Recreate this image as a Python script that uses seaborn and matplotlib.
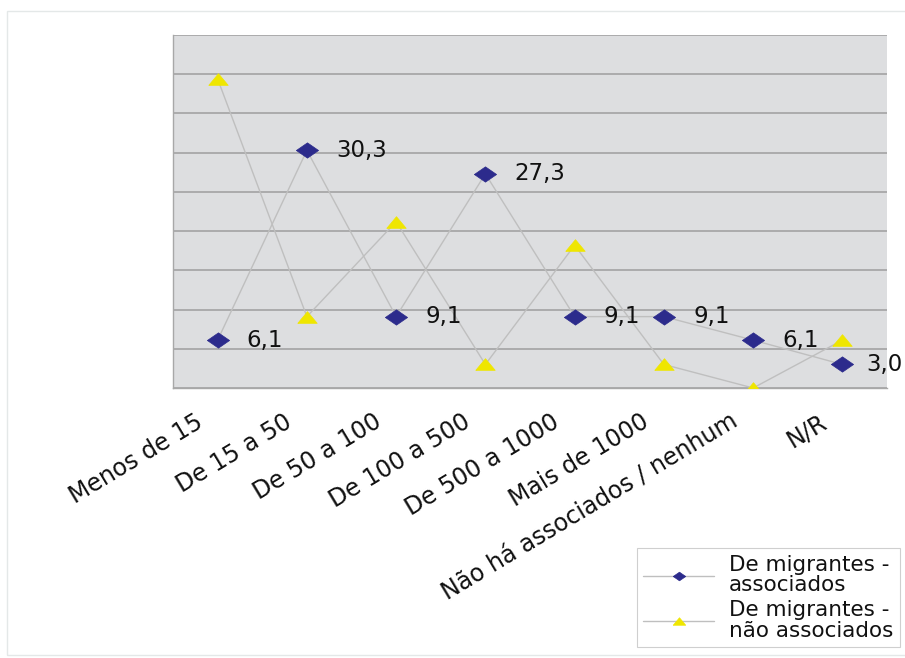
import numpy as np
import pandas as pd
import matplotlib
matplotlib.use("Agg")
import matplotlib.pyplot as plt
import matplotlib.transforms as mtransforms
from matplotlib.patches import Rectangle
import seaborn as sns

# Number of members (categories) and percentage shares per association type
categories = ["Menos de 15", "De 15 a 50", "De 50 a 100", "De 100 a 500",
              "De 500 a 1000", "Mais de 1000", "Não há associados / nenhum", "N/R"]
associados = [6.1, 30.3, 9.1, 27.3, 9.1, 9.1, 6.1, 3.0]
nao_associados = [39.4, 9.1, 21.2, 3.0, 18.2, 3.0, 0.0, 6.1]
series_names = ["De migrantes -\nassociados", "De migrantes -\nnão associados"]

pos = np.arange(len(categories))
df = pd.DataFrame({
    "pos": np.concatenate([pos, pos]),
    "valor": associados + nao_associados,
    "serie": [series_names[0]] * len(categories) + [series_names[1]] * len(categories),
})

sns.set_theme(style="white")
plt.rcParams["font.family"] = ["DejaVu Sans"]

fig = plt.figure(figsize=(9.05, 6.58), dpi=100)
ax = fig.add_axes([173 / 905, 1 - 388 / 658, (887 - 173) / 905, (388 - 35) / 658])
ax.set_facecolor("#dddee0")

# wide diamond and flat triangle markers
diamond = [(-1.45, 0), (0, 1), (1.45, 0), (0, -1), (-1.45, 0)]
triangle = [(-1.0, -0.6), (1.0, -0.6), (0, 0.6), (-1.0, -0.6)]

blue = "#2c2b8c"
yellow = "#efe600"
line_gray = "#bfbfbf"

styles = [(series_names[0], diamond, blue, 16),
          (series_names[1], triangle, yellow, 14)]
for name, mk, col, ms in styles:
    sub = df[df["serie"] == name]
    sns.lineplot(data=sub, x="pos", y="valor", ax=ax, color=line_gray, lw=1.0,
                 marker=mk, markersize=ms, markerfacecolor=col,
                 markeredgecolor=col, markeredgewidth=0.5, label=name,
                 zorder=3)

# value labels for the associated series (last one sits a bit closer)
for x, v in zip(pos, associados):
    dx = 17 if x == pos[-1] else 21
    ax.annotate(f"{v:.1f}".replace(".", ","), (x, v), xytext=(dx, 0),
                textcoords="offset points", ha="left", va="center",
                fontsize=16.5, color="#111111", zorder=4)

ax.set_xlim(-0.5, len(categories) - 0.5)
ax.set_ylim(0, 45)
ax.set_yticks(np.arange(0, 46, 5))
ax.set_yticklabels([])
ax.tick_params(axis="y", length=0)
ax.grid(axis="y", color="#a3a3a3", lw=1.2)
ax.grid(axis="x", visible=False)
ax.set_axisbelow(True)
ax.set_xlabel("")
ax.set_ylabel("")

ax.set_xticks(pos)
ax.set_xticklabels(categories, rotation=31, ha="right", va="center",
                   rotation_mode="anchor", fontsize=17, color="#111111")
ax.set_xticks(np.arange(-0.5, len(categories), 1), minor=True)
ax.tick_params(axis="x", which="major", length=0, pad=23)
ax.tick_params(axis="x", which="minor", length=4, color="#9a9a9a", width=0.8)
shift = mtransforms.ScaledTranslation(-17 / 100, 0, fig.dpi_scale_trans)
for lbl in ax.get_xticklabels():
    lbl.set_transform(lbl.get_transform() + shift)

for side in ["top", "right"]:
    ax.spines[side].set_visible(False)
for side in ["left", "bottom"]:
    ax.spines[side].set_color("#a8a8a8")
    ax.spines[side].set_linewidth(1.0)

leg = ax.legend(loc="lower right", bbox_to_anchor=(900 / 905, 11 / 658),
                bbox_transform=fig.transFigure, fontsize=15.5, frameon=True,
                fancybox=False, edgecolor="#cfcfcf", framealpha=1,
                handlelength=3.3, labelspacing=0.2, borderpad=0.3,
                handletextpad=0.7, borderaxespad=0, labelcolor="#111111")
leg.get_frame().set_linewidth(0.8)
for h in leg.legend_handles:
    h.set_markersize(9)
for t in leg.get_texts():
    t.set_linespacing(1.05)

# faint outer frame
fig.patches.append(Rectangle((7 / 905, 1 - 655 / 658), 1.0, 644 / 658,
                             transform=fig.transFigure, fill=False,
                             edgecolor="#e4e8e8", lw=1.0))

fig.savefig("out.png", dpi=100)
